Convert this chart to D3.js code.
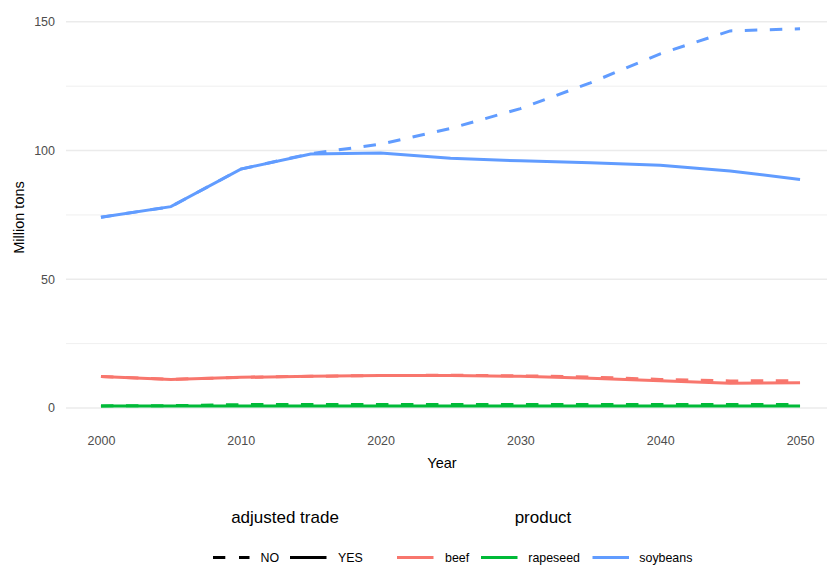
<!DOCTYPE html>
<html><head><meta charset="utf-8">
<script src="https://cdn.jsdelivr.net/npm/d3@7"></script>
<style>body{margin:0;background:#fff}svg{display:block;font-family:"Liberation Sans",Arial,Helvetica,sans-serif}</style>
</head><body><svg id="c" width="827" height="565"></svg>
<script>
const years = [2000,2005,2010,2015,2020,2025,2030,2035,2040,2045,2050];
const products = ["beef","rapeseed","soybeans"];
const tradeLevels = ["NO","YES"];
const colors = ["#F8766D","#00BA38","#619CFF"];
const beefNO = [12.2,11.1,11.9,12.3,12.6,12.7,12.5,12.0,11.1,10.5,10.6];
const beefYES = [12.2,11.1,11.9,12.3,12.6,12.6,12.3,11.5,10.6,9.6,9.8];
const rapeseedNO = [0.8,0.9,1.3,1.3,1.35,1.35,1.35,1.35,1.35,1.35,1.35];
const rapeseedYES = [0.8,0.75,0.8,0.8,0.8,0.8,0.8,0.8,0.8,0.8,0.8];
const soybeansNO = [74.1,78.2,92.8,98.8,102.5,108.6,116.3,126.3,137.6,146.5,147.3];
const soybeansYES = [74.1,78.2,92.8,98.7,99.1,97.0,96.0,95.3,94.3,92.1,88.8];
const yTicks = [0,50,100,150];
const yMinor = [25,75,125];
const xTicks = [2000,2010,2020,2030,2040,2050];

const series = [
  {product:"beef", trade:"NO", values:beefNO},
  {product:"beef", trade:"YES", values:beefYES},
  {product:"rapeseed", trade:"NO", values:rapeseedNO},
  {product:"rapeseed", trade:"YES", values:rapeseedYES},
  {product:"soybeans", trade:"NO", values:soybeansNO},
  {product:"soybeans", trade:"YES", values:soybeansYES}
];

(function(){
const svg = d3.select("#c");
const pL = 66, pR = 835, pT = 9, pB = 427;
const x = d3.scaleLinear().domain([2000-2.5,2050+2.5]).range([pL,pR]);
const y = d3.scaleLinear().domain([-7.4,155.0]).range([pB,pT]);
const color = d3.scaleOrdinal().domain(products).range(colors);
const dash = d3.scaleOrdinal().domain(tradeLevels).range(["12.5,12.5","none"]);

svg.append("g").selectAll("line").data(yMinor).join("line")
  .attr("x1",pL).attr("x2",827).attr("y1",d=>y(d)).attr("y2",d=>y(d))
  .attr("stroke","#ebebeb").attr("stroke-width",0.8);
svg.append("g").selectAll("line").data(yTicks).join("line")
  .attr("x1",pL).attr("x2",827).attr("y1",d=>y(d)).attr("y2",d=>y(d))
  .attr("stroke","#ebebeb").attr("stroke-width",1.5);

const yAxis = d3.axisLeft(y).tickValues(yTicks).tickSize(0).tickPadding(11);
const gy = svg.append("g").attr("transform",`translate(${pL},0)`).call(yAxis);
const xAxis = d3.axisBottom(x).tickValues(xTicks).tickSize(0).tickPadding(0).tickFormat(d3.format("d"));
const gx = svg.append("g").attr("transform",`translate(0,${pB})`).call(xAxis);
[gx,gy].forEach(g=>{g.select(".domain").remove();
  g.selectAll("text").attr("fill","#4d4d4d").style("font-size","12.5px").style("font-family","'Liberation Sans',Arial,sans-serif");});
gx.selectAll("text").attr("dy",null).attr("y",18);

svg.append("text").attr("x",442).attr("y",468).attr("text-anchor","middle")
  .style("font-size","14.5px").attr("fill","#000").text("Year");
svg.append("text").attr("transform","translate(23.5,217.5) rotate(-90)").attr("text-anchor","middle")
  .style("font-size","14.5px").attr("fill","#000").text("Million tons");

const line = d3.line().x((d,i)=>x(years[i])).y(d=>y(d));
svg.append("g").selectAll("path").data(series).join("path")
  .attr("d",d=>line(d.values)).attr("fill","none")
  .attr("stroke",d=>color(d.product)).attr("stroke-width",3)
  .attr("stroke-dasharray",d=>dash(d.trade));

const lg = svg.append("g");
lg.append("text").attr("x",285).attr("y",523).attr("text-anchor","middle").style("font-size","17px").text("adjusted trade");
lg.append("text").attr("x",543).attr("y",523).attr("text-anchor","middle").style("font-size","17px").text("product");
const ky = 557.5;
const tradeKeys = [{t:"NO",x0:213,lx:260.5},{t:"YES",x0:290,lx:338}];
tradeKeys.forEach(k=>{
  lg.append("line").attr("x1",k.x0).attr("x2",k.x0+36.5).attr("y1",ky).attr("y2",ky)
    .attr("stroke","#000").attr("stroke-width",3).attr("stroke-dasharray",dash(k.t)==="none"?null:"12.3,13.7");
  lg.append("text").attr("x",k.lx).attr("y",562).style("font-size","12.4px").text(k.t);
});
const prodKeys = [{x0:397,lx:445},{x0:481,lx:528.3},{x0:592.5,lx:639.3}];
products.forEach((p,i)=>{
  lg.append("line").attr("x1",prodKeys[i].x0).attr("x2",prodKeys[i].x0+36.5).attr("y1",ky).attr("y2",ky)
    .attr("stroke",color(p)).attr("stroke-width",3);
  lg.append("text").attr("x",prodKeys[i].lx).attr("y",562).style("font-size","12.4px").text(p);
});
})();
</script></body></html>
